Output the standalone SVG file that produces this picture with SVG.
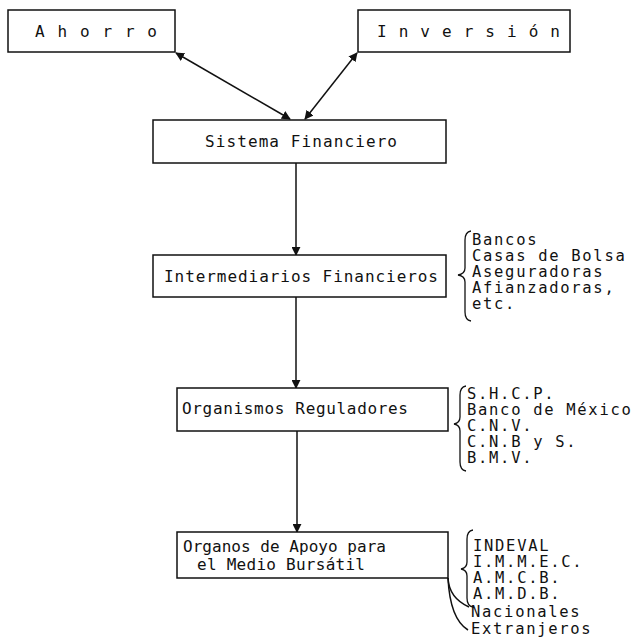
<svg xmlns="http://www.w3.org/2000/svg" width="633" height="639" viewBox="0 0 633 639">
  <defs>
    <marker id="head" viewBox="0 0 10 10" refX="9" refY="5" markerWidth="9" markerHeight="9" markerUnits="userSpaceOnUse" orient="auto-start-reverse">
      <path d="M0,0 L10,5 L0,10 z" fill="#111"/>
    </marker>
    <style>
      .box { fill: #fff; stroke: #111; stroke-width: 1.5; }
      .lbl { font-family: "DejaVu Sans Mono", "Liberation Mono", monospace; font-size: 16px; fill: #111; }
      .lst { font-family: "DejaVu Sans Mono", "Liberation Mono", monospace; font-size: 15.5px; fill: #111; letter-spacing: 1.7px; }
      .wire { fill: none; stroke: #111; stroke-width: 1.5; }
      .brace { fill: none; stroke: #111; stroke-width: 1.3; }
    </style>
  </defs>
  <rect width="633" height="639" fill="#fff"/>

  <!-- connectors -->
  <g id="connectors">
    <line class="wire" x1="176" y1="53" x2="290" y2="119" marker-start="url(#head)" marker-end="url(#head)"/>
    <line class="wire" x1="357" y1="53" x2="305" y2="119" marker-start="url(#head)" marker-end="url(#head)"/>
    <line class="wire" x1="296" y1="163" x2="296" y2="255" marker-end="url(#head)"/>
    <line class="wire" x1="296" y1="297" x2="296" y2="388" marker-end="url(#head)"/>
    <line class="wire" x1="297" y1="431" x2="297" y2="532" marker-end="url(#head)"/>
    <!-- branches below the last box -->
    <path class="wire" d="M448,578 Q449,598 469,607"/>
    <path class="wire" d="M448,578 Q450,619 468,630"/>
  </g>

  <g id="ahorro">
    <rect class="box" x="8" y="10" width="167" height="42"/>
    <text class="lbl" x="35" y="37" textLength="122" lengthAdjust="spacing">A h o r r o</text>
  </g>

  <g id="inversion">
    <rect class="box" x="358" y="10" width="212" height="42"/>
    <text class="lbl" x="377" y="37" textLength="183" lengthAdjust="spacing">I n v e r s i ó n</text>
  </g>

  <g id="sistema">
    <rect class="box" x="153" y="120" width="293" height="43"/>
    <text class="lbl" x="205" y="147" textLength="192" lengthAdjust="spacing">Sistema Financiero</text>
  </g>

  <g id="intermediarios">
    <rect class="box" x="153" y="255" width="293" height="42"/>
    <text class="lbl" x="164" y="282" textLength="274" lengthAdjust="spacing">Intermediarios Financieros</text>
  </g>

  <g id="intermediarios-list">
    <path class="brace" d="M471,231 Q465,232 465,240 L465,268 Q465,274 458,275 Q465,276 465,282 L465,312 Q465,320 471,321"/>
    <text class="lst" x="472" y="245">Bancos</text>
    <text class="lst" x="472" y="261">Casas de Bolsa</text>
    <text class="lst" x="472" y="277">Aseguradoras</text>
    <text class="lst" x="472" y="293">Afianzadoras,</text>
    <text class="lst" x="472" y="309">etc.</text>
  </g>

  <g id="organismos">
    <rect class="box" x="177" y="388" width="271" height="43"/>
    <text class="lbl" x="182" y="414" textLength="226" lengthAdjust="spacing">Organismos Reguladores</text>
  </g>

  <g id="organismos-list">
    <path class="brace" d="M466,386 Q460,387 460,395 L460,417 Q460,423 454,424 Q460,425 460,431 L460,462 Q460,470 466,471"/>
    <text class="lst" x="467" y="399">S.H.C.P.</text>
    <text class="lst" x="467" y="415">Banco de México</text>
    <text class="lst" x="467" y="431">C.N.V.</text>
    <text class="lst" x="467" y="447">C.N.B y S.</text>
    <text class="lst" x="467" y="463">B.M.V.</text>
  </g>

  <g id="organos">
    <rect class="box" x="177" y="532" width="271" height="46"/>
    <text class="lbl" x="183" y="552" textLength="203" lengthAdjust="spacing">Organos de Apoyo para</text>
    <text class="lbl" x="197" y="570" textLength="168" lengthAdjust="spacing">el Medio Bursátil</text>
  </g>

  <g id="organos-list">
    <path class="brace" d="M473,530 Q467,531 467,539 L467,562 Q467,568 461,569 Q467,570 467,576 L467,598 Q467,606 473,607"/>
    <text class="lst" x="473" y="551">INDEVAL</text>
    <text class="lst" x="473" y="567">I.M.M.E.C.</text>
    <text class="lst" x="473" y="583">A.M.C.B.</text>
    <text class="lst" x="473" y="599">A.M.D.B.</text>
  </g>

  <g id="origen">
    <text class="lst" x="471" y="617">Nacionales</text>
    <text class="lst" x="471" y="634">Extranjeros</text>
  </g>
</svg>
